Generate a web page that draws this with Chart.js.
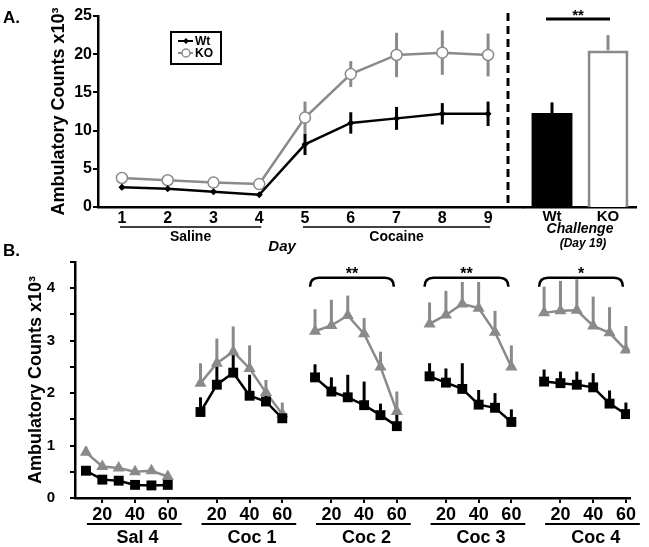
<!DOCTYPE html>
<html>
<head>
<meta charset="utf-8">
<script src="https://cdn.jsdelivr.net/npm/chart.js@4/dist/chart.umd.min.js"></script>
<style>
  html, body { margin: 0; padding: 0; background: #fff; }
  #wrap { position: relative; width: 649px; height: 547px; background: #fff; overflow: hidden; }
  canvas { position: absolute; }
</style>
</head>
<body>
<div id="wrap">
  <canvas id="dayChart" width="530" height="260" style="left:0;top:0"></canvas>
  <canvas id="challengeChart" width="149" height="260" style="left:500px;top:0"></canvas>
  <canvas id="sessionChart" width="649" height="309" style="left:0;top:238px"></canvas>
</div>
<script>
// ---- panel A : daily sessions ----
var days = [1, 2, 3, 4, 5, 6, 7, 8, 9];
var wtDay = [2.6, 2.4, 2.0, 1.6, 8.2, 11.0, 11.6, 12.2, 12.2];
var wtDayErr = [0.3, 0.3, 0.3, 0.2, 1.4, 1.4, 1.5, 1.4, 1.6];
var koDay = [3.8, 3.5, 3.2, 3.0, 11.7, 17.4, 19.9, 20.2, 19.9];
var koDayErr = [0.3, 0.3, 0.3, 0.3, 2.1, 1.7, 2.9, 2.9, 2.8];
var phaseLabels = ['Saline', 'Cocaine'];
var phaseStart = [1, 5];
var phaseEnd = [4, 9];

// ---- panel A : challenge ----
var challengeLabels = ['Wt', 'KO'];
var challengeMean = [12.3, 20.5];
var challengeErr = [1.4, 2.0];

// ---- panel B : 10 min bins ----
var sessions = ['Sal 4', 'Coc 1', 'Coc 2', 'Coc 3', 'Coc 4'];
var minutes = [10, 20, 30, 40, 50, 60];
var minuteTicks = [20, 40, 60];
var sessionSig = ['', '', '**', '**', '*'];
var wtBin = [
  [0.52, 0.35, 0.33, 0.25, 0.24, 0.25],
  [1.64, 2.16, 2.39, 1.95, 1.84, 1.52],
  [2.30, 2.03, 1.92, 1.77, 1.58, 1.37],
  [2.32, 2.20, 2.08, 1.78, 1.72, 1.45],
  [2.22, 2.19, 2.16, 2.11, 1.80, 1.60]
];
var wtBinErr = [
  [0.05, 0.04, 0.04, 0.03, 0.03, 0.03],
  [0.28, 0.35, 0.35, 0.40, 0.15, 0.10],
  [0.25, 0.27, 0.43, 0.45, 0.22, 0.25],
  [0.25, 0.27, 0.49, 0.28, 0.28, 0.24],
  [0.23, 0.22, 0.25, 0.27, 0.25, 0.22]
];
var koBin = [
  [0.87, 0.60, 0.57, 0.50, 0.52, 0.41],
  [2.19, 2.57, 2.79, 2.47, 2.01, 1.60],
  [3.18, 3.29, 3.48, 3.13, 2.50, 1.65],
  [3.32, 3.49, 3.70, 3.62, 3.16, 2.50],
  [3.53, 3.57, 3.58, 3.28, 3.15, 2.82]
];
var koBinErr = [
  [0.10, 0.05, 0.05, 0.05, 0.05, 0.08],
  [0.38, 0.47, 0.48, 0.44, 0.24, 0.22],
  [0.42, 0.49, 0.38, 0.30, 0.29, 0.38],
  [0.41, 0.46, 0.42, 0.50, 0.41, 0.41],
  [0.50, 0.57, 0.59, 0.56, 0.49, 0.46]
];

var GRAY = '#8a8a8a';
var FONT = "'Liberation Sans', Arial, sans-serif";
var SLOT = 7; // 6 bins + 1 gap per session

Chart.defaults.font.family = FONT;
Chart.defaults.font.weight = 'bold';
Chart.defaults.color = '#000';

function font(size, italic) {
  return (italic ? 'italic ' : '') + 'bold ' + size + 'px ' + FONT;
}

// vertical error bars, drawn under the markers
var errorBars = {
  id: 'errorBars',
  beforeDatasetsDraw: function(chart) {
    var ctx = chart.ctx, ys = chart.scales.y;
    chart.data.datasets.forEach(function(ds, di) {
      if (!ds.err) return;
      var meta = chart.getDatasetMeta(di);
      ctx.save();
      ctx.lineWidth = 3;
      meta.data.forEach(function(el, i) {
        var e = ds.err[i];
        var v = ds.data[i];
        if (v !== null && typeof v === 'object') v = v.y;
        if (e == null || v == null) return;
        ctx.strokeStyle = Array.isArray(ds.errColor) ? ds.errColor[i] : ds.errColor;
        ctx.beginPath();
        ctx.moveTo(el.x, ys.getPixelForValue(v + e));
        ctx.lineTo(el.x, ys.getPixelForValue(ds.errUpOnly ? v : v - e));
        ctx.stroke();
      });
      ctx.restore();
    });
  }
};

var panelA = {
  id: 'panelA',
  afterDraw: function(chart) {
    var ctx = chart.ctx, xs = chart.scales.x, area = chart.chartArea;
    ctx.save();
    ctx.fillStyle = '#000';
    ctx.font = font(17);
    ctx.textBaseline = 'middle';
    ctx.textAlign = 'left';
    ctx.fillText('A.', 3, 18);

    // phase underlines
    ctx.strokeStyle = '#000';
    ctx.lineWidth = 1.5;
    ctx.textAlign = 'center';
    ctx.font = font(14);
    for (var i = 0; i < phaseLabels.length; i++) {
      var x1 = xs.getPixelForValue(phaseStart[i]) - 2;
      var x2 = xs.getPixelForValue(phaseEnd[i]) + 2;
      var y = area.bottom + 20;
      ctx.beginPath(); ctx.moveTo(x1, y); ctx.lineTo(x2, y); ctx.stroke();
      ctx.fillText(phaseLabels[i], (x1 + x2) / 2, y + 10);
    }
    ctx.font = font(15, true);
    ctx.fillText('Day', xs.getPixelForValue((phaseEnd[0] + phaseStart[1]) / 2), area.bottom + 40);

    // legend box
    var lx = area.left + 73, ly = area.top + 16;
    ctx.lineWidth = 2;
    ctx.strokeRect(lx, ly, 50, 32);
    ctx.font = font(12);
    ctx.textAlign = 'left';
    chart.data.datasets.forEach(function(ds, di) {
      var yy = ly + 9 + di * 12;
      ctx.strokeStyle = ds.borderColor;
      ctx.lineWidth = 2;
      ctx.beginPath(); ctx.moveTo(lx + 7, yy); ctx.lineTo(lx + 22, yy); ctx.stroke();
      if (di) {
        ctx.lineWidth = 1.5;
        ctx.fillStyle = '#fff';
        ctx.beginPath(); ctx.arc(lx + 15, yy, 4, 0, Math.PI * 2); ctx.fill(); ctx.stroke();
      } else {
        ctx.fillStyle = '#000';
        ctx.beginPath(); ctx.moveTo(lx + 15, yy - 3); ctx.lineTo(lx + 18, yy); ctx.lineTo(lx + 15, yy + 3); ctx.lineTo(lx + 12, yy); ctx.fill();
      }
      ctx.fillStyle = '#000';
      ctx.fillText(ds.label, lx + 24, yy + 1);
    });
    ctx.restore();
  }
};

var panelAChallenge = {
  id: 'panelAChallenge',
  afterDraw: function(chart) {
    var ctx = chart.ctx, area = chart.chartArea, ys = chart.scales.y;
    var meta = chart.getDatasetMeta(0);
    ctx.save();
    // separator
    ctx.strokeStyle = '#000';
    ctx.lineWidth = 3;
    ctx.setLineDash([8, 5]);
    ctx.beginPath();
    ctx.moveTo(area.left - 16, 13);
    ctx.lineTo(area.left - 16, area.bottom);
    ctx.stroke();
    ctx.setLineDash([]);
    // significance
    var sy = ys.getPixelForValue(24.6);
    ctx.beginPath();
    ctx.moveTo(meta.data[0].x - 6, sy);
    ctx.lineTo(meta.data[1].x + 2, sy);
    ctx.stroke();
    ctx.fillStyle = '#000';
    ctx.textAlign = 'center';
    ctx.textBaseline = 'alphabetic';
    ctx.font = font(15);
    ctx.fillText('**', (meta.data[0].x + meta.data[1].x) / 2 - 2, sy + 1);
    var cx = (area.left + area.right) / 2;
    ctx.textBaseline = 'middle';
    ctx.font = font(14, true);
    ctx.fillText('Challenge', cx, area.bottom + 22);
    ctx.font = font(12, true);
    ctx.fillText('(Day 19)', cx + 3, area.bottom + 37);
    ctx.restore();
  }
};

var panelB = {
  id: 'panelB',
  afterDraw: function(chart) {
    var ctx = chart.ctx, xs = chart.scales.x, ys = chart.scales.y, area = chart.chartArea;
    ctx.save();
    ctx.fillStyle = '#000';
    ctx.strokeStyle = '#000';
    ctx.font = font(17);
    ctx.textBaseline = 'middle';
    ctx.textAlign = 'left';
    ctx.fillText('B.', 3, 13);
    ctx.textAlign = 'center';
    for (var g = 0; g < sessions.length; g++) {
      var x1 = xs.getPixelForValue(g * SLOT) + 1;
      var x2 = xs.getPixelForValue(g * SLOT + 5.85);
      var y = area.bottom + 26;
      ctx.lineWidth = 2;
      ctx.beginPath(); ctx.moveTo(x1, y); ctx.lineTo(x2, y); ctx.stroke();
      ctx.font = font(18);
      ctx.textBaseline = 'middle';
      ctx.fillText(sessions[g], xs.getPixelForValue(g * SLOT + 3.15), area.bottom + 40);
      if (sessionSig[g]) {
        var b1 = xs.getPixelForValue(g * SLOT) - 5;
        var b2 = xs.getPixelForValue(g * SLOT + 5) - 3;
        var by = ys.getPixelForValue(4.2);
        ctx.lineWidth = 2.5;
        ctx.beginPath();
        ctx.moveTo(b1, by + 9);
        ctx.quadraticCurveTo(b1, by, b1 + 9, by);
        ctx.lineTo(b2 - 9, by);
        ctx.quadraticCurveTo(b2, by, b2, by + 9);
        ctx.stroke();
        ctx.font = font(16);
        ctx.textBaseline = 'alphabetic';
        ctx.fillText(sessionSig[g], (b1 + b2) / 2, by + 1);
      }
    }
    ctx.restore();
  }
};

function sessionPoints(rows) {
  var pts = [];
  rows.forEach(function(row, g) {
    row.forEach(function(v, m) { pts.push({x: g * SLOT + m, y: v}); });
    pts.push({x: g * SLOT + minutes.length, y: null});
  });
  return pts;
}
function sessionErr(rows) {
  var out = [];
  rows.forEach(function(row) { out = out.concat(row, [null]); });
  return out;
}

var yTitle = 'Ambulatory Counts x10\u00B3';

new Chart(document.getElementById('dayChart'), {
  type: 'line',
  data: {
    datasets: [
      {
        label: 'Wt',
        data: days.map(function(d, i) { return {x: d, y: wtDay[i]}; }),
        err: wtDayErr, errColor: '#000',
        borderColor: '#000', backgroundColor: '#000', borderWidth: 2.5,
        pointStyle: 'rectRot', pointRadius: 3.5, pointBorderWidth: 0, pointBackgroundColor: '#000'
      },
      {
        label: 'KO',
        data: days.map(function(d, i) { return {x: d, y: koDay[i]}; }),
        err: koDayErr, errColor: GRAY,
        borderColor: GRAY, backgroundColor: '#fff', borderWidth: 2.5,
        pointStyle: 'circle', pointRadius: 5.5, pointBorderWidth: 1.5,
        pointBorderColor: GRAY, pointBackgroundColor: '#fff'
      }
    ]
  },
  options: {
    responsive: false,
    animation: false,
    layout: { padding: { top: 16, right: 6 } },
    plugins: { legend: { display: false }, tooltip: { enabled: false } },
    scales: {
      x: {
        type: 'linear', min: 0.477, max: 9.763,
        afterBuildTicks: function(s) { s.ticks = days.map(function(d) { return {value: d}; }); },
        ticks: { font: { size: 16, weight: 'bold' }, color: '#000', padding: 2, autoSkip: false, maxRotation: 0 },
        grid: { display: false, drawTicks: false },
        border: { color: '#000', width: 2.5 },
        afterFit: function(s) { s.height = 53; }
      },
      y: {
        min: 0, max: 25,
        ticks: { stepSize: 5, font: { size: 16, weight: 'bold' }, color: '#000', padding: 1 },
        grid: { drawOnChartArea: false, color: '#000', lineWidth: 2, tickLength: 5 },
        border: { color: '#000', width: 2.5 },
        title: { display: true, text: yTitle, color: '#000', font: { size: 18, weight: 'bold' }, padding: { top: 48 } },
        afterFit: function(s) { s.width = 98; }
      }
    }
  },
  plugins: [errorBars, panelA]
});

new Chart(document.getElementById('challengeChart'), {
  type: 'bar',
  data: {
    labels: challengeLabels,
    datasets: [{
      data: challengeMean,
      err: challengeErr, errColor: ['#000', GRAY], errUpOnly: true,
      backgroundColor: ['#000', '#fff'],
      borderColor: ['#000', GRAY],
      borderWidth: [0, 3],
      barPercentage: 0.73,
      categoryPercentage: 1
    }]
  },
  options: {
    responsive: false,
    animation: false,
    layout: { padding: { top: 16, left: 24, right: 13 } },
    plugins: { legend: { display: false }, tooltip: { enabled: false } },
    scales: {
      x: {
        ticks: { font: { size: 15, weight: 'bold' }, color: '#000', padding: 1 },
        grid: { display: false, drawTicks: false },
        border: { color: '#000', width: 2.5 },
        afterFit: function(s) { s.height = 53; }
      },
      y: { display: false, min: 0, max: 25 }
    }
  },
  plugins: [errorBars, panelAChallenge]
});

new Chart(document.getElementById('sessionChart'), {
  type: 'line',
  data: {
    datasets: [
      {
        label: 'Wt',
        data: sessionPoints(wtBin),
        err: sessionErr(wtBinErr), errColor: '#000', errUpOnly: true,
        borderColor: '#000', backgroundColor: '#000', borderWidth: 2.5,
        pointStyle: 'rect', pointRadius: 7, pointBorderWidth: 0, pointBackgroundColor: '#000'
      },
      {
        label: 'KO',
        data: sessionPoints(koBin),
        err: sessionErr(koBinErr), errColor: GRAY, errUpOnly: true,
        borderColor: GRAY, backgroundColor: GRAY, borderWidth: 2.5,
        pointStyle: 'triangle', pointRadius: 7, pointBorderWidth: 0, pointBackgroundColor: GRAY
      }
    ]
  },
  options: {
    responsive: false,
    animation: false,
    layout: { padding: { top: 21, right: 19 } },
    plugins: { legend: { display: false }, tooltip: { enabled: false } },
    scales: {
      x: {
        type: 'linear', min: -0.67, max: 33.25,
        afterBuildTicks: function(s) {
          var t = [];
          sessions.forEach(function(name, g) {
            minuteTicks.forEach(function(m) { t.push({value: g * SLOT + minutes.indexOf(m)}); });
          });
          s.ticks = t;
        },
        ticks: {
          font: { size: 18, weight: 'bold' }, color: '#000', padding: 1, autoSkip: false, maxRotation: 0,
          callback: function(v) { return minutes[Math.round(v) % SLOT]; }
        },
        grid: { drawOnChartArea: false, color: '#000', lineWidth: 2, tickLength: 5 },
        border: { color: '#000', width: 2.5 },
        afterFit: function(s) { s.height = 49; }
      },
      y: {
        min: 0, max: 4.5,
        ticks: {
          stepSize: 0.5, font: { size: 15, weight: 'bold' }, color: '#000', padding: 15,
          callback: function(v) { return Number.isInteger(v) ? v : ''; }
        },
        grid: { drawOnChartArea: false, color: '#000', lineWidth: 2, tickLength: 5 },
        border: { color: '#000', width: 2.5 },
        title: { display: true, text: yTitle, color: '#000', font: { size: 18, weight: 'bold' }, padding: { top: 25 } },
        afterFit: function(s) { s.width = 75; }
      }
    }
  },
  plugins: [errorBars, panelB]
});
</script>
</body>
</html>
